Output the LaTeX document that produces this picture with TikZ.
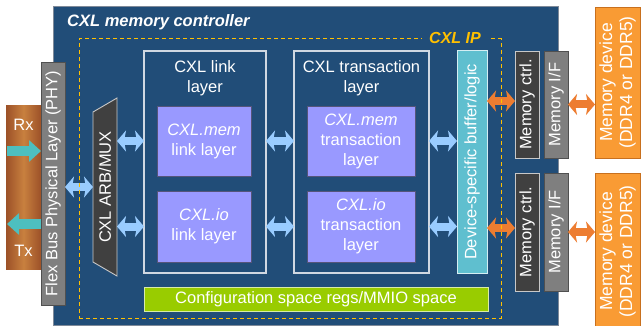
\documentclass[tikz,border=0pt]{standalone}
\usepackage{fontspec}
\setmainfont{Liberation Sans}
\usetikzlibrary{arrows.meta,calc}
\definecolor{ctrlblue}{HTML}{214D78}
\definecolor{mainborder}{HTML}{7F8A99}
\definecolor{lblue}{HTML}{99CCFF}
\definecolor{oarr}{HTML}{ED7D31}
\definecolor{teal}{HTML}{4DBFBF}
\definecolor{purp}{HTML}{9999FF}
\definecolor{purpborder}{HTML}{55557A}
\definecolor{devcyan}{HTML}{5FBFCF}
\definecolor{devborder}{HTML}{D5EEF3}
\definecolor{dkgray}{HTML}{404040}
\definecolor{midgray}{HTML}{7F7F7F}
\definecolor{ltborder}{HTML}{C8C8C8}
\definecolor{darkborder}{HTML}{505050}
\definecolor{memorange}{HTML}{F99B34}
\definecolor{memborder}{HTML}{C8701E}
\definecolor{cfggreen}{HTML}{99CC00}
\definecolor{cfgborder}{HTML}{D8EBA8}
\definecolor{ipyellow}{HTML}{FFC000}
\definecolor{boxline}{HTML}{D0D8E2}
\definecolor{brownE}{HTML}{9C5128}
\definecolor{brownM}{HTML}{C8803F}
\begin{document}
\begin{tikzpicture}[x=1pt,y=-1pt,
  font=\fontsize{16.5}{20}\selectfont,
  sz/.style 2 args={minimum width=#1,minimum height=#2,inner sep=0pt,outer sep=0pt},
  txt/.style={text=white,align=center,inner sep=0pt},
  vtxt/.style={txt,rotate=90},
  barrow/.style={draw=lblue,line width=8pt,
     {Stealth[width=21pt,length=9pt,inset=2pt]}-{Stealth[width=21pt,length=9pt,inset=2pt]}},
  oarrow/.style={draw=oarr,line width=8pt,
     {Stealth[width=21pt,length=9pt,inset=2pt]}-{Stealth[width=21pt,length=9pt,inset=2pt]}},
  tarrow/.style={draw=teal,line width=10pt,-{Triangle[width=21pt,length=12pt]}},
  purpbox/.style={fill=purp,draw=purpborder,line width=0.8pt},
  layerbox/.style={draw=boxline,line width=1.2pt},
  ctrlbox/.style={fill=dkgray,draw=ltborder,line width=0.9pt},
  ifbox/.style={fill=midgray,draw=darkborder,line width=0.9pt},
  membox/.style={fill=memorange,draw=memborder,line width=0.8pt},
]
\useasboundingbox (0,0) rectangle (642,326);

% main controller
\node[sz={505}{319},fill=ctrlblue,draw=mainborder,line width=0.8pt] (main) at (305.5,165.5) {};
\node[txt,anchor=west,font=\fontsize{16.5}{19}\selectfont\bfseries\itshape] (title) at (67,22) {CXL memory controller};

% Rx/Tx
\node[sz={35}{163},left color=brownE,right color=brownE,middle color=brownM] (rxtx) at (23.5,187.5) {};
\node[txt] (rx) at (23.5,125) {Rx};
\node[txt] (tx) at (23.5,251) {Tx};

% PHY
\node[sz={24}{243},fill=midgray,draw=darkborder,line width=0.9pt] (phy) at (53,183.5) {};
\node[vtxt] (phyt) at (phy) {Flex Bus Physical Layer (PHY)};

\coordinate (rxtail) at (7,151);
\coordinate (txtail) at (7,224);
\draw[tarrow] (rxtail) -- (rxtail -| phy.west);
\draw[tarrow] (txtail -| phy.west) -- (txtail);

% ARB/MUX
\node[sz={24}{178}] (arb) at (105,187) {};
\filldraw[fill=dkgray,draw=ltborder,line width=0.9pt]
  ($(arb.north west)+(0,14)$) -- (arb.north east) -- (arb.south east) -- ($(arb.south west)+(0,-14)$) -- cycle;
\node[vtxt] (arbt) at (arb) {CXL ARB/MUX};

% link layer
\node[sz={122}{222},layerbox] (link) at (205,162) {};
\node[txt] (linkt) at (205,78) {CXL link\\layer};
\node[sz={94}{70},purpbox] (lmem) at (204,141) {};
\node[txt] (lmemt) at (lmem) {\textit{CXL.mem}\\link layer};
\node[sz={94}{71},purpbox] (lio) at (204,226.5) {};
\node[txt] (liot) at (lio) {\textit{CXL.io}\\link layer};

% transaction layer
\node[sz={135}{222},layerbox] (trans) at (361.5,162) {};
\node[txt] (transt) at (361.5,78) {CXL transaction\\layer};
\node[sz={108}{70},purpbox] (tmem) at (361,141) {};
\node[txt] (tmemt) at (tmem) {\textit{CXL.mem}\\transaction\\layer};
\node[sz={108}{71},purpbox] (tio) at (361,226.5) {};
\node[txt] (tiot) at (tio) {\textit{CXL.io}\\transaction\\layer};

% device-specific
\node[sz={30}{222},fill=devcyan,draw=devborder,line width=1pt] (dev) at (472,162) {};
\node[vtxt] (devt) at (dev) {Device-specific buffer/logic};

% memory ctrl / IF
\node[sz={24}{107},ctrlbox] (mc1) at (527,104.5) {};
\node[vtxt] at (mc1) {Memory ctrl.};
\node[sz={24}{118},ctrlbox] (mc2) at (527,232) {};
\node[vtxt] at (mc2) {Memory ctrl.};
\node[sz={24}{107},ifbox] (mif1) at (556,104.5) {};
\node[vtxt] at (mif1) {Memory I/F};
\node[sz={24}{118},ifbox] (mif2) at (556,232) {};
\node[vtxt] at (mif2) {Memory I/F};

% memory devices
\node[sz={45}{151},membox] (md1) at (617.5,82.5) {};
\node[vtxt,font=\fontsize{17.5}{20}\selectfont] at (md1) {Memory device\\(DDR4 or DDR5)};
\node[sz={45}{157},membox] (md2) at (617.5,251.5) {};
\node[vtxt,font=\fontsize{17.5}{20}\selectfont] at (md2) {Memory device\\(DDR4 or DDR5)};

% config space
\node[sz={344}{24},fill=cfggreen,draw=cfgborder,line width=0.9pt] (cfg) at (316,299) {};
\node[txt] (cfgt) at (cfg) {Configuration space regs/MMIO space};

% connectors
\coordinate (mc1in) at ([yshift=3.5pt]mc1.west);
\coordinate (mc2in) at ([yshift=4pt]mc2.west);
\draw[barrow] (phy.east |- arb.west) -- (arb.west);
\draw[barrow] (arb.east |- lmem.west) -- (link.west |- lmem.west);
\draw[barrow] (arb.east |- lio.west) -- (link.west |- lio.west);
\draw[barrow] (link.east |- lmem.west) -- (trans.west |- lmem.west);
\draw[barrow] (link.east |- lio.west) -- (trans.west |- lio.west);
\draw[barrow] (trans.east |- tmem.east) -- (dev.west |- tmem.east);
\draw[barrow] (trans.east |- tio.east) -- (dev.west |- tio.east);
\draw[oarrow] (dev.east |- mc1in) -- (mc1in);
\draw[oarrow] (dev.east |- mc2in) -- (mc2in);
\draw[oarrow] (mif1.east) -- (md1.west |- mif1.east);
\draw[oarrow] (mif2.east) -- (md2.west |- mif2.east);

% CXL IP dashed region
\node[sz={422}{279},draw=ipyellow,line width=1pt,dash pattern=on 4pt off 3pt] (ip) at (290,178.5) {};
\node[fill=ctrlblue,text=ipyellow,inner xsep=7pt,inner ysep=2pt,font=\fontsize{16}{19}\selectfont\bfseries\itshape] (ipt) at (455,38) {CXL IP};
\end{tikzpicture}
\end{document}
